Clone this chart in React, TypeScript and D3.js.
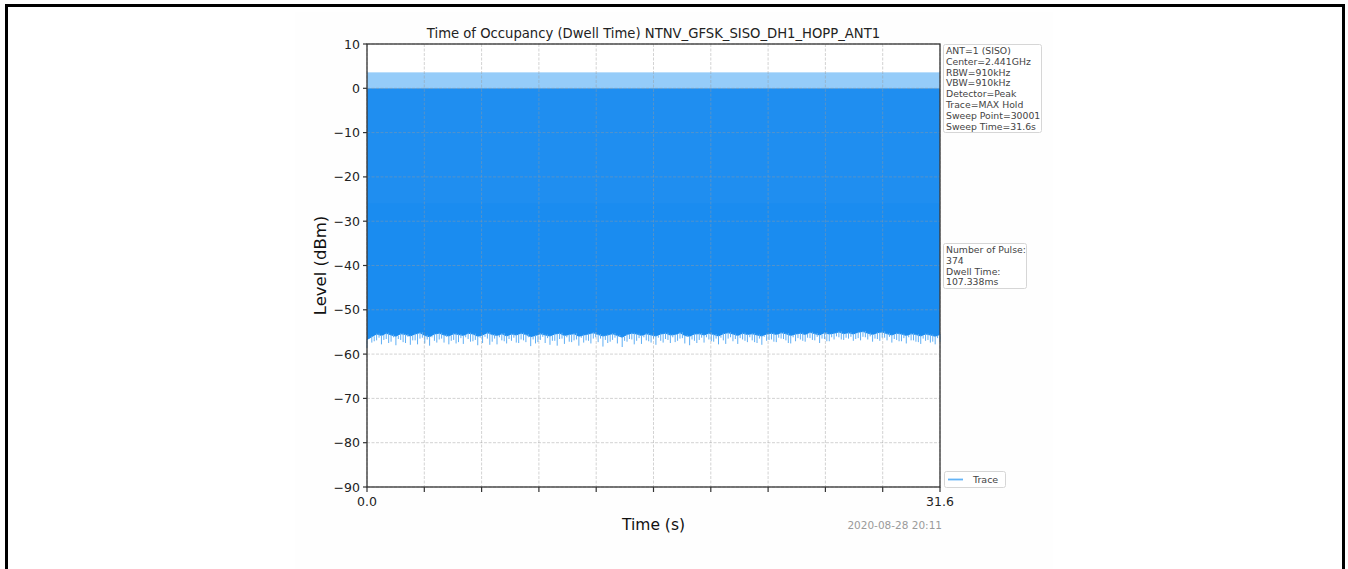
import React from "react";
import * as d3 from "d3";

const titleText = "Time of Occupancy (Dwell Time) NTNV_GFSK_SISO_DH1_HOPP_ANT1";
const xLabel = "Time (s)";
const yLabel = "Level (dBm)";
const stampText = "2020-08-28 20:11";

const timeDomain: [number, number] = [0, 31.6];
const levelDomain: [number, number] = [-90, 10];
const yTickValues = [10, 0, -10, -20, -30, -40, -50, -60, -70, -80, -90];
const xTickValues = [0, 3.16, 6.32, 9.48, 12.64, 15.8, 18.96, 22.12, 25.28, 28.44, 31.6];
const xTickLabels = ["0.0", "", "", "", "", "", "", "", "", "", "31.6"];

const infoLines = [
  "ANT=1 (SISO)",
  "Center=2.441GHz",
  "RBW=910kHz",
  "VBW=910kHz",
  "Detector=Peak",
  "Trace=MAX Hold",
  "Sweep Point=30001",
  "Sweep Time=31.6s",
];
const resultLines = ["Number of Pulse:", "374", "Dwell Time:", "107.338ms"];
const legendLabels = ["Trace"];

// trace envelope (dBm)
const pulsePeakLevel = 3.6;
const holdLevel = 0;
const shoulderLevel = -26;

// lower envelope of trace (solid part), read across the sweep
const floorSolid = [
  -56.8, -56.2, -55.6, -55.9, -55.4, -55.8, -56.1, -55.5, -55.7, -56.0,
  -55.6, -55.3, -55.9, -56.2, -55.6, -55.4, -55.8, -56.0, -55.5, -55.7,
  -55.9, -55.4, -55.6, -56.1, -55.8, -55.3, -55.7, -55.9, -55.5, -56.0,
  -55.6, -55.8, -55.4, -55.7, -56.2, -55.9, -55.5, -55.8, -56.0, -55.6,
  -55.4, -55.9, -55.7, -55.5, -56.1, -55.8, -55.6, -55.3, -55.7, -56.0,
  -55.8, -55.5, -55.9, -56.3, -55.7, -55.4, -55.6, -55.9, -55.5, -55.8,
  -56.0, -55.6, -55.4, -55.8, -55.7, -55.3, -55.9, -56.1, -55.6, -55.5,
  -55.8, -55.4, -55.7, -56.0, -55.5, -55.3, -55.6, -55.9, -55.4, -55.7,
  -55.5, -55.8, -56.0, -55.6, -55.4, -55.7, -55.3, -55.5, -55.9, -55.6,
  -55.4, -55.7, -55.2, -55.5, -55.8, -55.3, -55.6, -55.4, -55.1, -55.5,
  -55.3, -55.6, -55.2, -55.0, -55.4, -55.7, -55.3, -55.1, -55.5, -55.8,
  -55.4, -55.6, -55.9, -55.5, -55.7, -56.0, -55.6, -55.8, -56.1, -55.7,
];
// deepest noise dips below the solid envelope (on the sample points)
const floorSpike = [
  -58.6, -57.4, -56.9, -57.8, -56.6, -57.2, -58.0, -56.8, -57.5, -57.9,
  -56.9, -56.5, -57.6, -58.1, -57.0, -56.7, -57.4, -57.8, -56.8, -57.3,
  -57.7, -56.6, -57.1, -58.0, -57.5, -56.5, -57.2, -57.8, -56.9, -57.6,
  -57.0, -57.4, -56.7, -57.3, -58.2, -57.6, -56.8, -57.5, -57.9, -57.0,
  -56.6, -57.7, -57.2, -56.9, -58.1, -57.4, -57.0, -56.5, -57.3, -58.3,
  -57.5, -56.8, -57.6, -58.4, -57.2, -56.7, -57.0, -57.7, -56.9, -57.4,
  -57.9, -57.0, -56.6, -57.5, -57.3, -56.5, -57.6, -58.0, -57.0, -56.8,
  -57.4, -56.7, -57.2, -57.8, -56.9, -56.5, -57.1, -57.7, -56.7, -57.3,
  -56.9, -57.5, -57.9, -57.0, -56.7, -57.3, -56.5, -56.9, -57.6, -57.1,
  -56.7, -57.2, -56.4, -56.9, -57.5, -56.6, -57.1, -56.7, -56.2, -56.8,
  -56.5, -57.0, -56.4, -56.1, -56.7, -57.2, -56.6, -56.3, -56.9, -57.4,
  -56.8, -57.1, -57.6, -56.9, -57.2, -57.7, -57.0, -57.4, -57.8, -57.2,
];
// noise dips between the sample points
const floorSpikeMid = [
  -56.4, -57.1, -56.3, -56.8, -57.5, -56.2, -56.6, -57.3, -56.1, -56.9,
  -57.8, -56.3, -56.7, -56.2, -57.4, -56.5, -56.1, -57.0, -57.6, -56.4,
  -56.2, -57.2, -56.8, -56.3, -56.1, -57.9, -56.5, -56.2, -57.1, -56.6,
  -56.3, -57.5, -56.9, -56.2, -56.7, -57.3, -56.1, -56.4, -57.0, -58.1,
  -56.5, -56.2, -57.3, -56.7, -56.3, -56.9, -57.6, -56.2, -56.5, -56.8,
  -57.2, -56.3, -56.1, -57.0, -56.6, -57.8, -56.4, -56.2, -57.1, -56.5,
  -56.3, -57.4, -56.8, -56.2, -57.0, -56.4, -56.1, -56.7, -57.5, -56.3,
  -56.2, -57.1, -56.5, -56.3, -57.7, -56.2, -56.6, -56.4, -57.0, -56.2,
  -57.3, -56.5, -56.1, -56.8, -57.2, -56.3, -56.6, -57.5, -56.2, -56.4,
  -57.0, -56.3, -56.8, -56.1, -56.5, -57.1, -56.2, -56.0, -56.7, -56.3,
  -56.1, -56.6, -56.9, -56.2, -56.0, -56.5, -57.0, -56.3, -56.1, -56.6,
  -57.1, -56.4, -56.2, -56.9, -57.3, -56.5, -56.8, -57.2, -56.4, -57.6,
];

const FONT = "'DejaVu Sans', sans-serif";

export default function App() {
  const left = 367, right = 940, top = 44, bottom = 487;
  const x = d3.scaleLinear().domain(timeDomain).range([left, right]);
  const y = d3.scaleLinear().domain(levelDomain).range([bottom, top]);

  const step = (timeDomain[1] - timeDomain[0]) / (floorSolid.length - 1);
  const pts = floorSolid.map((v, i) => ({
    t: timeDomain[0] + i * step,
    lo: v,
    dip: floorSpike[i],
    mid: floorSpikeMid[i],
  }));

  const mainArea = d3
    .area<{ t: number; lo: number }>()
    .x((d) => x(d.t))
    .y0((d) => y(d.lo))
    .y1(() => y(holdLevel))
    .curve(d3.curveLinear)(pts) as string;

  const mainColor = "#1a8cf0";
  const lightColor = "#95ccf9";
  const dipColor = "#5eaef4";

  return (
    <div style={{ position: "fixed", left: 0, top: 0 }}>
      <svg width={1348} height={569} style={{ display: "block" }}>
        <rect x={0} y={0} width={1348} height={569} fill="#ffffff" />
        <rect x={295} y={12} width={758} height={557} fill="#fefefe" />
        <rect x={left} y={top} width={right - left} height={bottom - top} fill="#ffffff" />
        {/* page frame */}
        <path d="M6.5,569 L6.5,5.5 L1343.5,5.5 L1343.5,569" fill="none" stroke="#000" strokeWidth={3} />

        {/* title */}
        <text x={(left + right) / 2} y={38} textAnchor="middle" fontFamily={FONT} fontSize={13.2} fill="#222">
          {titleText}
        </text>

        {/* trace */}
        <rect x={x(timeDomain[0])} y={y(pulsePeakLevel)} width={x(timeDomain[1]) - x(timeDomain[0])}
          height={y(holdLevel) - y(pulsePeakLevel)} fill={lightColor} />
        <path d={mainArea} fill={mainColor} />
        <rect x={x(timeDomain[0])} y={y(holdLevel)} width={x(timeDomain[1]) - x(timeDomain[0])}
          height={y(shoulderLevel) - y(holdLevel)} fill="#ffffff" opacity={0.025} />
        {pts.map((d, i) => (
          <line key={"dip" + i} x1={x(d.t)} x2={x(d.t)} y1={y(d.lo) - 1} y2={y(d.dip)} stroke={dipColor} strokeWidth={1} />
        ))}
        {pts.slice(0, pts.length - 1).map((d, i) => (
          <line key={"mid" + i} x1={x(d.t + step / 2)} x2={x(d.t + step / 2)} y1={y(d.lo) - 1} y2={y(d.mid)}
            stroke={dipColor} strokeWidth={1} />
        ))}

        {/* grid */}
        {xTickValues.map((t, i) => (
          <line key={"gx" + i} x1={x(t)} x2={x(t)} y1={top} y2={bottom} stroke="#9a9a9a" strokeOpacity={0.55}
            strokeWidth={0.8} strokeDasharray="3,1.5" />
        ))}
        {yTickValues.map((v, i) => (
          <line key={"gy" + i} x1={left} x2={right} y1={y(v)} y2={y(v)} stroke="#9a9a9a" strokeOpacity={0.55}
            strokeWidth={0.8} strokeDasharray="3,1.5" />
        ))}

        {/* frame */}
        <rect x={left} y={top} width={right - left} height={bottom - top} fill="none" stroke="#333" strokeWidth={1.3} />

        {/* y ticks */}
        {yTickValues.map((v, i) => (
          <g key={"yt" + i}>
            <line x1={left - 4} x2={left} y1={y(v)} y2={y(v)} stroke="#333" strokeWidth={1.2} />
            <text x={left - 7} y={y(v) + 4.5} textAnchor="end" fontFamily={FONT} fontSize={12.5} fill="#222">
              {d3.format("")(v).replace("-", "\u2212")}
            </text>
          </g>
        ))}
        {/* x ticks */}
        {xTickValues.map((t, i) => (
          <g key={"xt" + i}>
            <line x1={x(t)} x2={x(t)} y1={bottom} y2={bottom + 5} stroke="#333" strokeWidth={1.2} />
            {xTickLabels[i] ? (
              <text x={x(t)} y={bottom + 19} textAnchor="middle" fontFamily={FONT} fontSize={12.5} fill="#222">
                {xTickLabels[i]}
              </text>
            ) : null}
          </g>
        ))}

        {/* axis labels */}
        <text x={(left + right) / 2} y={530} textAnchor="middle" fontFamily={FONT} fontSize={15.5} fill="#111">
          {xLabel}
        </text>
        <text transform={`translate(326,${(top + bottom) / 2}) rotate(-90)`} textAnchor="middle" fontFamily={FONT}
          fontSize={16.5} fill="#111">
          {yLabel}
        </text>
        <text x={942} y={529} textAnchor="end" fontFamily={FONT} fontSize={10.5} fill="#9a9a9a">
          {stampText}
        </text>

        {/* info box */}
        <rect x={943.5} y={44.5} width={98} height={88} rx={2} fill="#fff" stroke="#d6d6d6" strokeWidth={1} />
        {infoLines.map((s, i) => (
          <text key={"il" + i} x={946} y={54 + i * 10.8} fontFamily={FONT} fontSize={9.3} fill="#444">
            {s}
          </text>
        ))}

        {/* result box */}
        <rect x={943.5} y={243.5} width={83} height={45} rx={2} fill="#fff" stroke="#d6d6d6" strokeWidth={1} />
        {resultLines.map((s, i) => (
          <text key={"rl" + i} x={946} y={253 + i * 10.8} fontFamily={FONT} fontSize={9.3} fill="#444">
            {s}
          </text>
        ))}

        {/* legend */}
        <rect x={944.5} y={471.5} width={61} height={16} rx={2} fill="#fff" stroke="#d6d6d6" strokeWidth={1} />
        <line x1={948} x2={963} y1={479.5} y2={479.5} stroke="#64b4f6" strokeWidth={1.8} />
        <text x={973} y={483} fontFamily={FONT} fontSize={9.5} fill="#444">
          {legendLabels[0]}
        </text>
      </svg>
    </div>
  );
}
